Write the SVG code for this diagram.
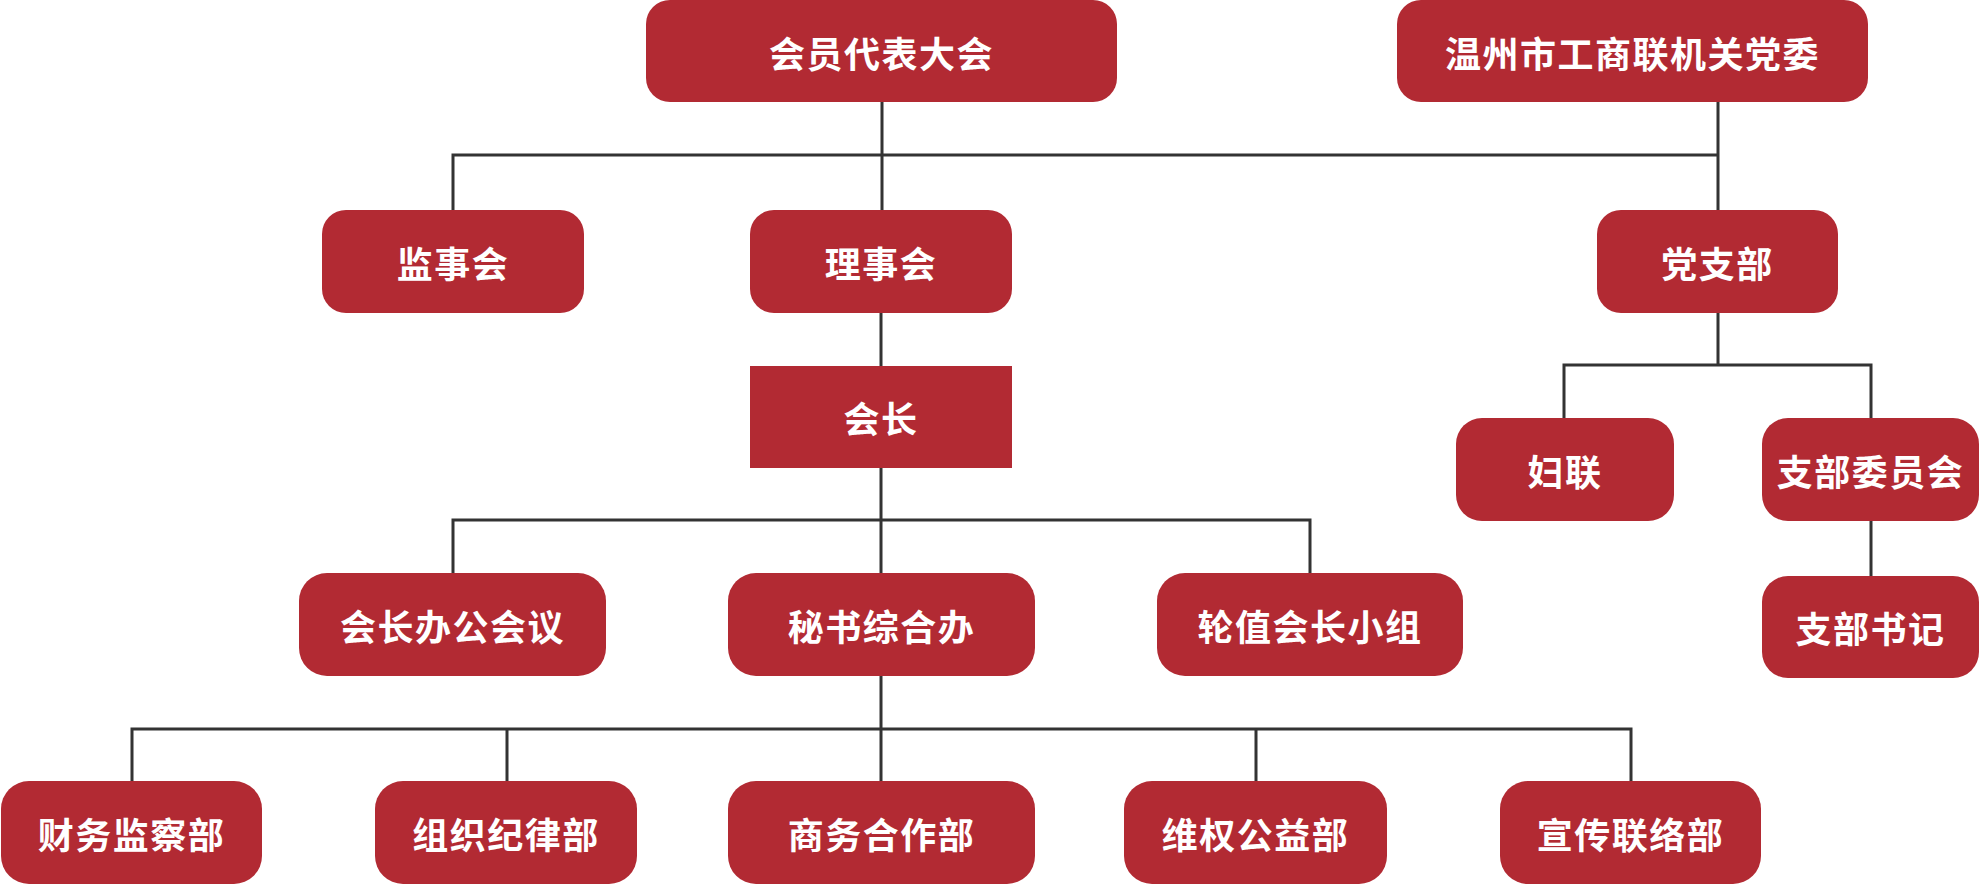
<svg xmlns="http://www.w3.org/2000/svg" width="1980" height="885" viewBox="0 0 1980 885">
<style>
.box{fill:#B22A33}
.t{fill:#FFFFFF;font-family:"Noto Sans CJK SC","Noto Sans",sans-serif;font-weight:700;font-size:36px;letter-spacing:1.5px;text-anchor:middle;dominant-baseline:central}
.ln{stroke:#333333;stroke-width:3;fill:none;stroke-linecap:square}
</style>
<rect x="0" y="0" width="1980" height="885" fill="#FFFFFF"/>
<g id="connectors">
<path class="ln" d="M882,102 V210 M453,155 H1718 M453,155 V210 M1718,102 V210"/>
<path class="ln" d="M881,313 V366 M881,468 V573 M453,520 H1310 M453,520 V573 M1310,520 V573"/>
<path class="ln" d="M881,676 V781 M132,729 H1631 M132,729 V781 M507,729 V781 M1256,729 V781 M1631,729 V781"/>
<path class="ln" d="M1718,313 V365 M1564,365 H1871 M1564,365 V418 M1871,365 V418 M1871,521 V576"/>
</g>
<g id="n1"><rect class="box" x="646" y="0" width="471" height="102" rx="24"/><text class="t" x="881.5" y="52">会员代表大会</text></g>
<g id="n2"><rect class="box" x="1397" y="0" width="471" height="102" rx="24"/><text class="t" x="1632.5" y="52">温州市工商联机关党委</text></g>
<g id="n3"><rect class="box" x="322" y="210" width="262" height="103" rx="24"/><text class="t" x="453" y="262">监事会</text></g>
<g id="n4"><rect class="box" x="750" y="210" width="262" height="103" rx="24"/><text class="t" x="881" y="262">理事会</text></g>
<g id="n5"><rect class="box" x="1597" y="210" width="241" height="103" rx="24"/><text class="t" x="1717.5" y="262">党支部</text></g>
<g id="n6"><rect class="box" x="750" y="366" width="262" height="102"/><text class="t" x="881" y="417">会长</text></g>
<g id="n7"><rect class="box" x="1456" y="418" width="218" height="103" rx="26"/><text class="t" x="1565" y="470">妇联</text></g>
<g id="n8"><rect class="box" x="1762" y="418" width="217" height="103" rx="26"/><text class="t" x="1870.5" y="470">支部委员会</text></g>
<g id="n9"><rect class="box" x="299" y="573" width="307" height="103" rx="28"/><text class="t" x="452.5" y="625">会长办公会议</text></g>
<g id="n10"><rect class="box" x="728" y="573" width="307" height="103" rx="28"/><text class="t" x="881.5" y="625">秘书综合办</text></g>
<g id="n11"><rect class="box" x="1157" y="573" width="306" height="103" rx="28"/><text class="t" x="1310" y="625">轮值会长小组</text></g>
<g id="n12"><rect class="box" x="1762" y="576" width="217" height="102" rx="26"/><text class="t" x="1870.5" y="627">支部书记</text></g>
<g id="n13"><rect class="box" x="1" y="781" width="261" height="103" rx="28"/><text class="t" x="131.5" y="833">财务监察部</text></g>
<g id="n14"><rect class="box" x="375" y="781" width="262" height="103" rx="28"/><text class="t" x="506" y="833">组织纪律部</text></g>
<g id="n15"><rect class="box" x="728" y="781" width="307" height="103" rx="28"/><text class="t" x="881.5" y="833">商务合作部</text></g>
<g id="n16"><rect class="box" x="1124" y="781" width="263" height="103" rx="28"/><text class="t" x="1255.5" y="833">维权公益部</text></g>
<g id="n17"><rect class="box" x="1500" y="781" width="261" height="103" rx="28"/><text class="t" x="1630.5" y="833">宣传联络部</text></g>
</svg>
